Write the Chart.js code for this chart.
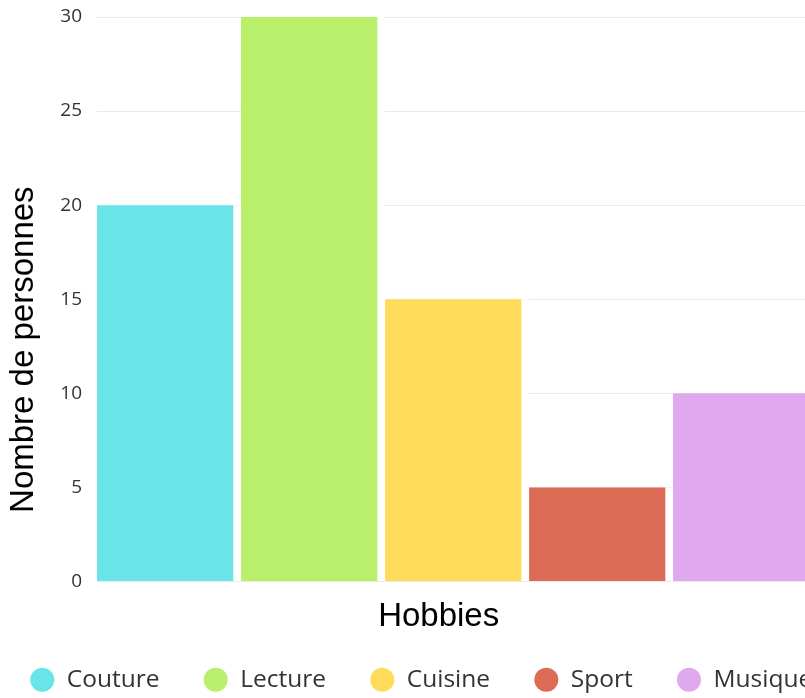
<!DOCTYPE html>
<html lang="fr">
<head>
<meta charset="utf-8">
<title>Hobbies</title>
<script src="https://cdn.jsdelivr.net/npm/chart.js@4/dist/chart.umd.min.js"></script>
<style>
  html, body { margin: 0; padding: 0; background: #fff; overflow: hidden; }
  #wrap { position: relative; width: 805px; height: 698px; overflow: hidden; }
  #chart { position: absolute; left: -14px; top: 0; }
</style>
</head>
<body>
<div id="wrap">
  <canvas id="chart" width="900" height="702"></canvas>
</div>
<script>
// Chart data
const HOBBIES = ['Couture', 'Lecture', 'Cuisine', 'Sport', 'Musique'];
const PERSONNES = [20, 30, 15, 5, 10];
const Y_TICKS = [0, 5, 10, 15, 20, 25, 30];

// Bar colours, one per hobby
const COLORS = [
  '#69e5e9', // Couture
  '#b9ef6b', // Lecture
  '#fedb58', // Cuisine
  '#dc6c56', // Sport
  '#e0a9ef', // Musique
];

const TICK_FONT = { family: "'Open Sans', sans-serif", size: 19 };
const TITLE_FONT = { family: "'Liberation Sans', Arial, sans-serif", size: 33 };

/**
 * One dataset per hobby so every bar gets its own legend entry
 */
function buildDatasets() {
  return HOBBIES.map((hobby, i) => ({
    label: hobby,
    data: [PERSONNES[i]],
    backgroundColor: COLORS[i],
    borderColor: '#ffffff',
    borderWidth: { right: 8 },
    categoryPercentage: 1,
    barPercentage: 1
  }));
}

function legendLabels(chart) {
  const items = Chart.defaults.plugins.legend.labels.generateLabels(chart);
  items.forEach(item => {
    item.lineWidth = 0;
    item.strokeStyle = item.fillStyle;
  });
  return items;
}

const ctx = document.getElementById('chart').getContext('2d');

new Chart(ctx, {
  type: 'bar',
  data: {
    labels: [''],
    datasets: buildDatasets()
  },
  options: {
    responsive: false,
    animation: false,
    devicePixelRatio: 1,
    layout: {
      padding: { top: 17, left: 0, right: 0, bottom: 0 }
    },
    plugins: {
      tooltip: { enabled: false },
      legend: {
        position: 'bottom',
        align: 'start',
        labels: {
          usePointStyle: true,
          pointStyle: 'circle',
          boxHeight: 17,
          padding: 44,
          color: '#333333',
          font: { family: "'Open Sans', sans-serif", size: 24.5 },
          generateLabels: legendLabels
        }
      }
    },
    scales: {
      x: {
        grid: { display: false, drawTicks: false },
        border: { display: false },
        ticks: { display: false },
        title: {
          display: true,
          text: 'Hobbies    ',
          color: '#000000',
          font: { ...TITLE_FONT, lineHeight: '14px' },
          padding: { top: 28, bottom: 0 }
        }
      },
      y: {
        min: Y_TICKS[0],
        max: Y_TICKS[Y_TICKS.length - 1],
        afterFit: scale => {
          scale.width = 111;
          scale.paddingTop = 0;
          scale.paddingBottom = 0;
        },
        afterBuildTicks: scale => {
          scale.ticks = Y_TICKS.map(v => ({ value: v }));
        },
        grid: { color: '#ebebeb', drawTicks: false },
        border: { display: false },
        ticks: {
          padding: 15,
          color: '#333333',
          font: TICK_FONT
        },
        title: {
          display: true,
          text: 'Nombre de personnes           ',
          color: '#000000',
          font: TITLE_FONT,
          padding: { top: 18, bottom: 0 }
        }
      },
      y2: {
        position: 'right',
        display: true,
        afterFit: scale => {
          scale.width = 69;
          scale.paddingTop = 0;
          scale.paddingBottom = 0;
        },
        grid: { display: false, drawTicks: false },
        border: { display: false },
        ticks: { display: false }
      }
    }
  }
});
</script>
</body>
</html>
